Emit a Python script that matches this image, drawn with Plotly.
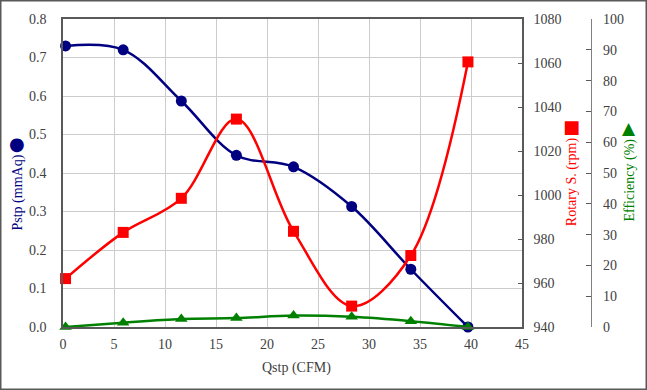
import plotly.graph_objects as go

# ---- data ----
qstp = [0.25, 5.9, 11.6, 17.0, 22.6, 28.3, 34.1, 39.7]
pstp = [0.73, 0.72, 0.587, 0.446, 0.416, 0.313, 0.150, 0.0]
rotary = [962, 983, 998.5, 1034.5, 983.5, 949.5, 972.5, 1060.5]
efficiency = [0.0, 1.4, 2.6, 2.9, 3.7, 3.3, 1.9, 0.0]

x_ticks = [0, 5, 10, 15, 20, 25, 30, 35, 40, 45]

W, H = 647, 390
ML, MR, MT, MB = 63, 50, 19, 63
PW = W - ML - MR
PH = H - MT - MB

def px(x):
    return (x - ML) / PW

def py(y):
    return (H - MB - y) / PH

FONT = "Liberation Serif"
AX = "#595959"
GRID = "#cccccc"
NAVY = "#000080"
RED = "#ff0000"
GREEN = "#008000"

fig = go.Figure()
fig.add_trace(go.Scatter(x=qstp, y=pstp, mode="lines+markers", yaxis="y",
                         line=dict(color=NAVY, width=2.5, shape="spline", smoothing=1),
                         marker=dict(symbol="circle", size=11, color=NAVY),
                         cliponaxis=False, name="Pstp"))
fig.add_trace(go.Scatter(x=qstp, y=rotary, mode="lines+markers", yaxis="y2",
                         line=dict(color=RED, width=2.5, shape="spline", smoothing=1),
                         marker=dict(symbol="square", size=11, color=RED),
                         cliponaxis=False, name="Rotary"))
fig.add_trace(go.Scatter(x=qstp, y=efficiency, mode="lines+markers", yaxis="y3",
                         line=dict(color=GREEN, width=2.5, shape="spline", smoothing=1),
                         marker=dict(symbol="triangle-up", size=11, color=GREEN),
                         cliponaxis=False, name="Efficiency"))

def tf():
    return dict(family=FONT, size=14, color="#404040")

fig.update_layout(
    width=W, height=H,
    margin=dict(l=ML, r=MR, t=MT, b=MB),
    paper_bgcolor="white", plot_bgcolor="white",
    showlegend=False,
    font=dict(family=FONT, size=14, color="#404040"),
    xaxis=dict(domain=[0, (522 - ML) / PW], range=[0, 45], tickvals=x_ticks,
               showline=True, linecolor=AX, linewidth=1.5, mirror=True,
               showgrid=True, gridcolor=GRID, gridwidth=1, zeroline=False,
               ticks="", tickfont=tf(), ticklabelstandoff=3),
    yaxis=dict(range=[0, 0.8], dtick=0.1, tickformat=".1f",
               showline=True, linecolor=AX, linewidth=1.5, mirror=True,
               showgrid=True, gridcolor=GRID, gridwidth=1, zeroline=False,
               ticks="", tickfont=tf(), ticklabelstandoff=12),
    yaxis2=dict(overlaying="y", side="right", anchor="x", range=[940, 1080], dtick=20,
                showline=True, linecolor=AX, linewidth=1.5, showgrid=False, zeroline=False,
                ticks="inside", ticklen=4, tickcolor=AX, tickfont=tf(), ticklabelstandoff=7),
    yaxis3=dict(overlaying="y", side="right", anchor="free", position=px(591),
                range=[0, 100], dtick=10,
                showline=True, linecolor="#808080", linewidth=1.2, showgrid=False, zeroline=False,
                ticks="inside", ticklen=5, tickcolor=AX, tickfont=tf(), ticklabelstandoff=8),
)

ann = []
# axis titles
ann.append(dict(text="Pstp (mmAq)", x=px(17), y=py(192.5), textangle=-90,
                font=dict(family=FONT, size=14, color=NAVY)))
ann.append(dict(text="●", x=px(17), y=py(143), font=dict(family="DejaVu Sans", size=18, color=NAVY)))
ann.append(dict(text="Rotary S. (rpm)", x=px(571.7), y=py(181.5), textangle=-90,
                font=dict(family=FONT, size=14, color=RED)))
ann.append(dict(text="■", x=px(571.7), y=py(126.7), font=dict(family="DejaVu Sans", size=18, color=RED)))
ann.append(dict(text="Efficiency (%)", x=px(629), y=py(180.5), textangle=-90,
                font=dict(family=FONT, size=14, color=GREEN)))
ann.append(dict(text="▲", x=px(629.3), y=py(128.3), font=dict(family="DejaVu Sans", size=17, color=GREEN)))
ann.append(dict(text="Qstp (CFM)", x=px(296.7), y=py(368),
                font=dict(family=FONT, size=14, color="#404040")))
for a in ann:
    a.update(xref="paper", yref="paper", xanchor="center", yanchor="middle", showarrow=False)
fig.update_layout(annotations=ann)

# chart border
fig.add_shape(type="rect", xref="paper", yref="paper",
              x0=px(0.75), x1=px(W - 0.75), y0=py(H - 0.75), y1=py(0.75),
              line=dict(color="#595959", width=1.5), fillcolor="rgba(0,0,0,0)", layer="above")

fig.write_html("out.html", config={"displayModeBar": False},
               post_script="document.body.style.margin='0';document.body.style.overflow='hidden';")
